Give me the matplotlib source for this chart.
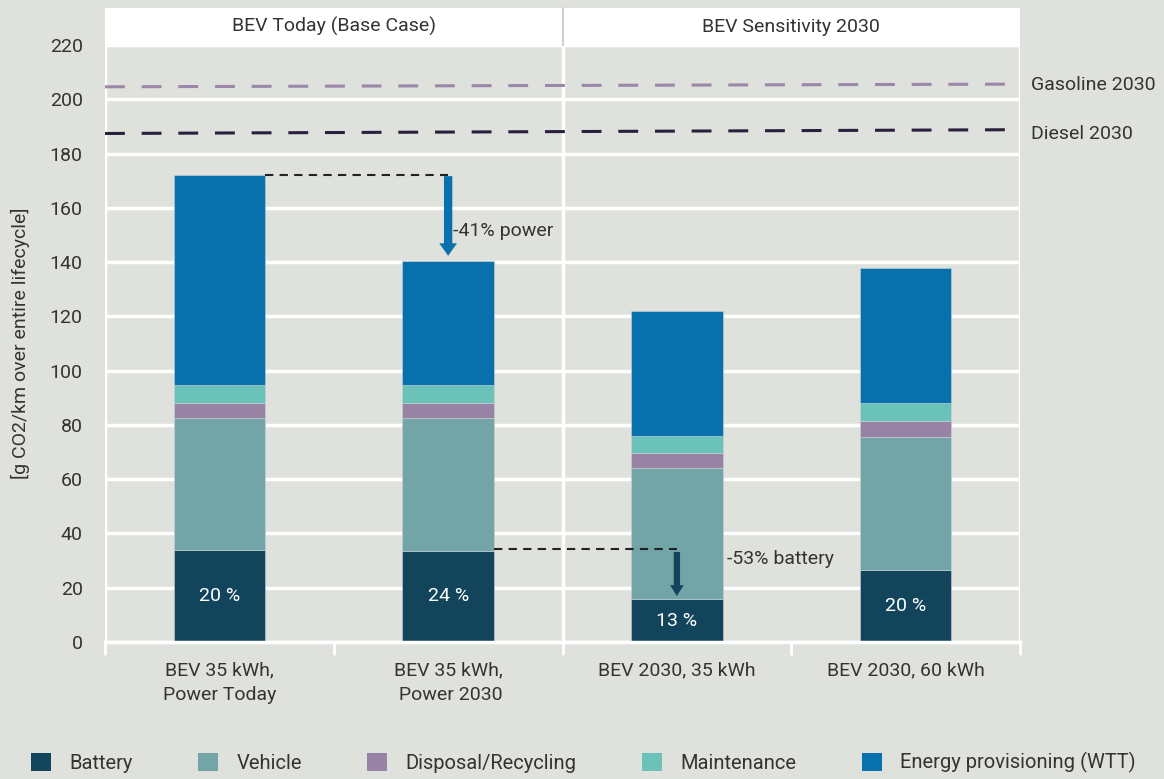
import matplotlib
matplotlib.use("Agg")
import matplotlib.pyplot as plt
import numpy as np
from matplotlib.patches import Rectangle, Patch

plt.rcParams["font.family"] = ["Roboto", "DejaVu Sans"]

# data
categories = ["BEV 35 kWh,\nPower Today", "BEV 35 kWh,\n Power 2030",
              "BEV 2030, 35 kWh", "BEV 2030, 60 kWh"]
battery = [33.9, 33.6, 15.7, 26.7]
vehicle = [48.5, 48.8, 48.4, 48.8]
disposal = [5.5, 5.5, 5.5, 5.9]
maintenance = [6.8, 6.8, 6.3, 6.6]
energy = [77.3, 45.8, 46.1, 49.8]
battery_share = ["20 %", "24 %", "13 %", "20 %"]
gasoline_2030 = [204.6, 205.6]
diesel_2030 = [187.4, 188.8]
groups = ["BEV Today (Base Case)", "BEV Sensitivity 2030"]

bg = "#dfe2dc"
txt = "#333333"
fs = 14
series = [
    ("Battery", battery, "#12445b"),
    ("Vehicle", vehicle, "#72a4a8"),
    ("Disposal/Recycling", disposal, "#9883a5"),
    ("Maintenance", maintenance, "#6bc2b9"),
    ("Energy provisioning (WTT)", energy, "#0870ad"),
]

fig = plt.figure(figsize=(11.64, 7.79), dpi=100, facecolor=bg)
ax = fig.add_axes([0.0902, 0.1759, 0.7861, 0.7663])
ax.set_facecolor(bg)
for s in ax.spines.values():
    s.set_visible(False)

x = np.arange(len(categories))
ax.set_xlim(-0.5, 3.5)
ax.set_ylim(0, 220)
ax.set_yticks(range(0, 221, 20))
ax.yaxis.grid(True, color="white", lw=2.5)
ax.set_axisbelow(True)
for xv in [-0.5, 1.5, 3.5]:
    ax.axvline(xv, color="white", lw=2.5, zorder=0.5)

bottom = np.zeros(len(categories))
for name, vals, col in series:
    ax.bar(x, vals, 0.4, bottom=bottom, color=col, label=name, zorder=2,
           edgecolor="#c9d3d3", linewidth=0.4)
    bottom += np.array(vals)

for i, lab in enumerate(battery_share):
    ax.text(x[i], battery[i] / 2, lab, ha="center", va="center",
            color="white", fontsize=fs, zorder=3)

# reference lines for ICE vehicles
ax.plot([-0.5, 3.5], gasoline_2030, color="#9a87a9", lw=2.2, dashes=(6.5, 5.5),
        zorder=1.5, clip_on=False)
ax.plot([-0.5, 3.5], diesel_2030, color="#2b1f40", lw=2.2, dashes=(6.5, 5.5),
        zorder=1.5, clip_on=False)
ax.text(3.55, gasoline_2030[1] - 0.3, "Gasoline 2030", va="center", ha="left",
        fontsize=fs, color=txt)
ax.text(3.55, diesel_2030[1] - 1.5, "Diesel 2030", va="center", ha="left",
        fontsize=fs, color=txt)

# annotations
top1 = sum(v[0] for _, v, _ in series)
top2 = sum(v[1] for _, v, _ in series)
ax.plot([x[0] + 0.2, x[1]], [top1, top1], color="#222222", lw=1.5,
        dashes=(4, 3), zorder=3)
ax.annotate("", xy=(x[1], top2 + 0.8), xytext=(x[1], top1 + 0.7),
            arrowprops=dict(arrowstyle="simple,head_length=0.6,head_width=0.85,tail_width=0.4",
                            mutation_scale=15, color="#0870ad", lw=0), zorder=4)
ax.text(x[1] + 0.02, 151.5, "-41% power", ha="left", va="center",
        fontsize=fs, color=txt)

ax.plot([x[1] + 0.2, x[2]], [battery[1] + 0.6, battery[1] + 0.6], color="#222222",
        lw=1.5, dashes=(4, 3), zorder=3)
ax.annotate("", xy=(x[2], battery[2] + 0.2), xytext=(x[2], battery[1] + 0.6),
            arrowprops=dict(arrowstyle="simple,head_length=0.6,head_width=0.75,tail_width=0.35",
                            mutation_scale=13, color="#12445b", lw=0), zorder=4)
ax.text(x[2] + 0.22, 30.6, "-53% battery", ha="left", va="center",
        fontsize=fs, color=txt)

# axes ticks
ax.set_xticks(x)
ax.set_xticklabels(categories, fontsize=fs, color=txt, linespacing=1.5)
ax.set_xticks([-0.5, 0.5, 1.5, 2.5, 3.5], minor=True)
ax.tick_params(axis="x", which="major", length=0, pad=14)
ax.tick_params(axis="x", which="minor", length=9, width=2, color="white")
ax.tick_params(axis="y", length=0, labelsize=fs, labelcolor=txt, pad=16)
ax.axhline(0, color="white", lw=2.5, zorder=2.5, clip_on=False)
ax.set_ylabel("[g CO2/km over entire lifecycle]", fontsize=fs, color=txt, labelpad=14)

# header band
ax.add_patch(Rectangle((0, 1.0), 1, 0.062, transform=ax.transAxes, facecolor="white",
                       edgecolor="none", clip_on=False, zorder=1))
ax.plot([0.5, 0.5], [1.0, 1.062], transform=ax.transAxes, color="#d0d0d0", lw=1.5,
        clip_on=False, zorder=1.2)
ax.text(0.25, 1.031, groups[0], transform=ax.transAxes, ha="center", va="center",
        fontsize=fs, color=txt)
ax.text(0.75, 1.031, groups[1], transform=ax.transAxes, ha="center", va="center",
        fontsize=fs, color=txt)

handles = [Patch(facecolor=c, edgecolor="none", label=n) for n, _, c in series]
fig.legend(handles=handles, loc="lower left", bbox_to_anchor=(0.011, -0.016), ncol=5,
           frameon=False, fontsize=14.5, handlelength=1.0, handleheight=1.0,
           handletextpad=0.9, columnspacing=3.25, labelcolor=txt)

fig.savefig("out.png", dpi=100, facecolor=bg)
